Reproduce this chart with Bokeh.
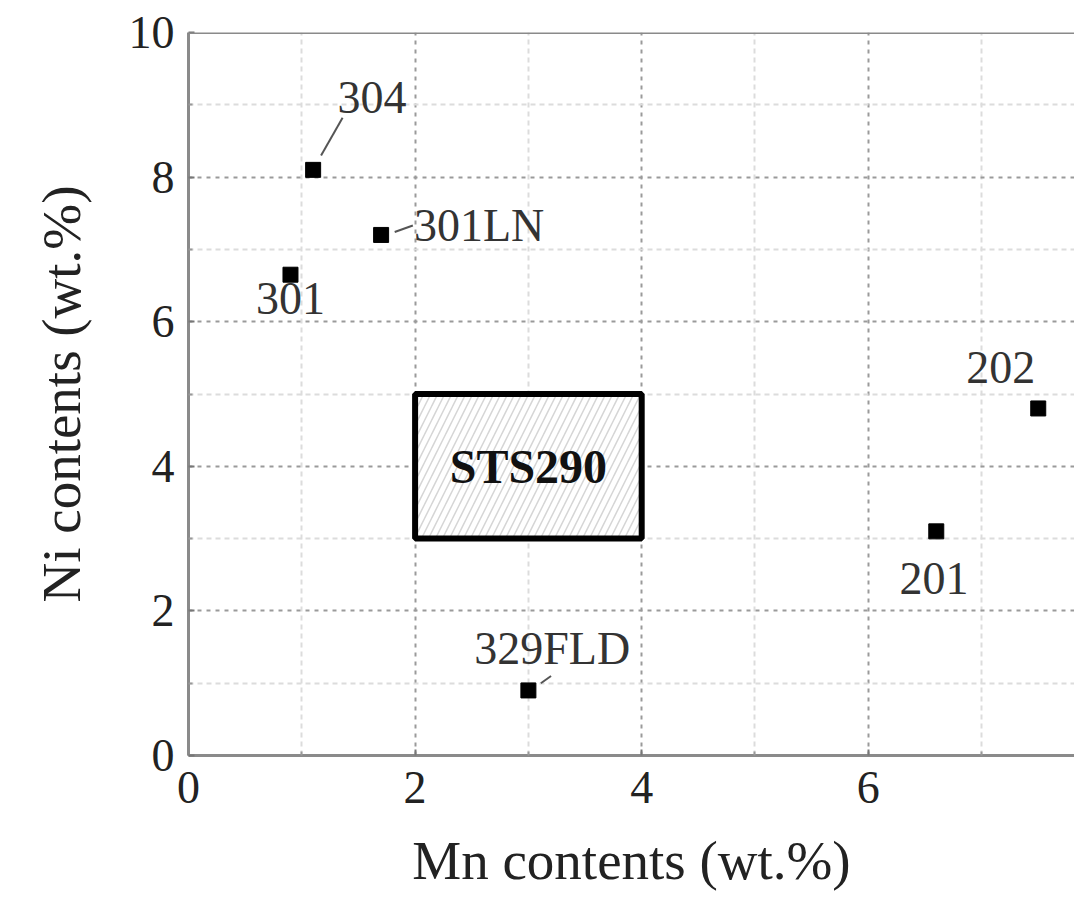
from bokeh.plotting import figure
from bokeh.models import FixedTicker, Span, ColumnDataSource
from bokeh.core.properties import value
from bokeh.embed import file_html
from bokeh.resources import INLINE

# ---- data ----
grades = ["304", "301LN", "301", "202", "201", "329FLD"]
mn = [1.1, 1.7, 0.9, 7.5, 6.6, 3.0]
ni = [8.1, 7.2, 6.65, 4.8, 3.1, 0.9]

label_x = [1.62, 1.99, 0.9, 7.17, 6.58, 3.21]
label_y = [9.1, 7.33, 6.32, 5.37, 2.45, 1.48]
label_align = ["center", "left", "center", "center", "center", "center"]

leader_x0 = [1.17, 1.82, 3.11]
leader_y0 = [8.3, 7.24, 1.0]
leader_x1 = [1.36, 1.98, 3.2]
leader_y1 = [8.82, 7.33, 1.1]

region_name = ["STS290"]
region_mn = [(2.0, 4.0)]
region_ni = [(3.0, 5.0)]

x_major = [0, 2, 4, 6]
x_minor = [1, 3, 5, 7]
y_major = [0, 2, 4, 6, 8, 10]
y_minor = [1, 3, 5, 7, 9]

FONT = "Liberation Serif"

p = figure(width=1074, height=894, x_range=(0, 7.82), y_range=(0, 10),
           output_backend="svg", toolbar_location=None,
           min_border_left=188, min_border_right=0, min_border_top=32,
           min_border_bottom=139)
p.outline_line_color = None
p.background_fill_color = "white"

# grids
p.xaxis.ticker = FixedTicker(ticks=x_major, minor_ticks=x_minor)
p.yaxis.ticker = FixedTicker(ticks=y_major, minor_ticks=y_minor)
for g in (p.xgrid, p.ygrid):
    g.grid_line_color = "#9a9a9a"
    g.grid_line_dash = "4 5"
    g.grid_line_width = 2
    g.minor_grid_line_color = "#dcdcdc"
    g.minor_grid_line_dash = "5 4"
    g.minor_grid_line_width = 2

# axes
for ax in (p.xaxis, p.yaxis):
    ax.axis_line_color = "#8a8a8a"
    ax.axis_line_width = 3
    ax.major_tick_in = 6
    ax.major_tick_out = 0
    ax.minor_tick_in = 4
    ax.minor_tick_out = 0
    ax.major_tick_line_color = "#777777"
    ax.minor_tick_line_color = "#999999"
    ax.major_tick_line_width = 2
    ax.minor_tick_line_width = 2
    ax.major_label_text_font = FONT
    ax.major_label_text_font_size = "46px"
    ax.major_label_text_color = "#222222"
    ax.axis_label_text_font = FONT
    ax.axis_label_text_font_size = "55px"
    ax.axis_label_text_font_style = "normal"
    ax.axis_label_text_color = "#222222"

p.xaxis.axis_label = "Mn contents (wt.%)"
p.yaxis.axis_label = "Ni contents (wt.%)"
p.xaxis.major_label_standoff = 16
p.yaxis.major_label_standoff = 14
p.xaxis.axis_label_standoff = 24
p.yaxis.axis_label_standoff = 34

# top border
p.add_layout(Span(location=10, dimension="width", line_color="#8a8a8a", line_width=3))

# STS290 region
rsrc = ColumnDataSource(dict(
    left=[r[0] for r in region_mn], right=[r[1] for r in region_mn],
    bottom=[r[0] for r in region_ni], top=[r[1] for r in region_ni],
    name=region_name,
    cx=[(r[0] + r[1]) / 2 for r in region_mn],
    cy=[(r[0] + r[1]) / 2 for r in region_ni]))
p.quad(left="left", right="right", bottom="bottom", top="top", source=rsrc,
       fill_color="white", hatch_pattern="/", hatch_color="#d5d5d5",
       hatch_scale=14, hatch_weight=1.5,
       line_color="black", line_width=6)
p.text(x="cx", y="cy", text="name", source=rsrc, text_font=value(FONT),
       text_font_size="48px", text_font_style="bold", text_color="#111111",
       text_align="center", text_baseline="middle")

# leaders
p.segment(x0=leader_x0, y0=leader_y0, x1=leader_x1, y1=leader_y1,
          line_color="#555555", line_width=2)

# points
p.scatter(mn, ni, marker="square", size=15, fill_color="black", line_color="black")

# labels
lsrc = ColumnDataSource(dict(x=label_x, y=label_y, t=grades, a=label_align))
p.text(x="x", y="y", text="t", source=lsrc, text_font=value(FONT),
       text_font_size="46px", text_color="#333333", text_align="a",
       text_baseline="middle")

open("out.html", "w").write(file_html(p, INLINE))
